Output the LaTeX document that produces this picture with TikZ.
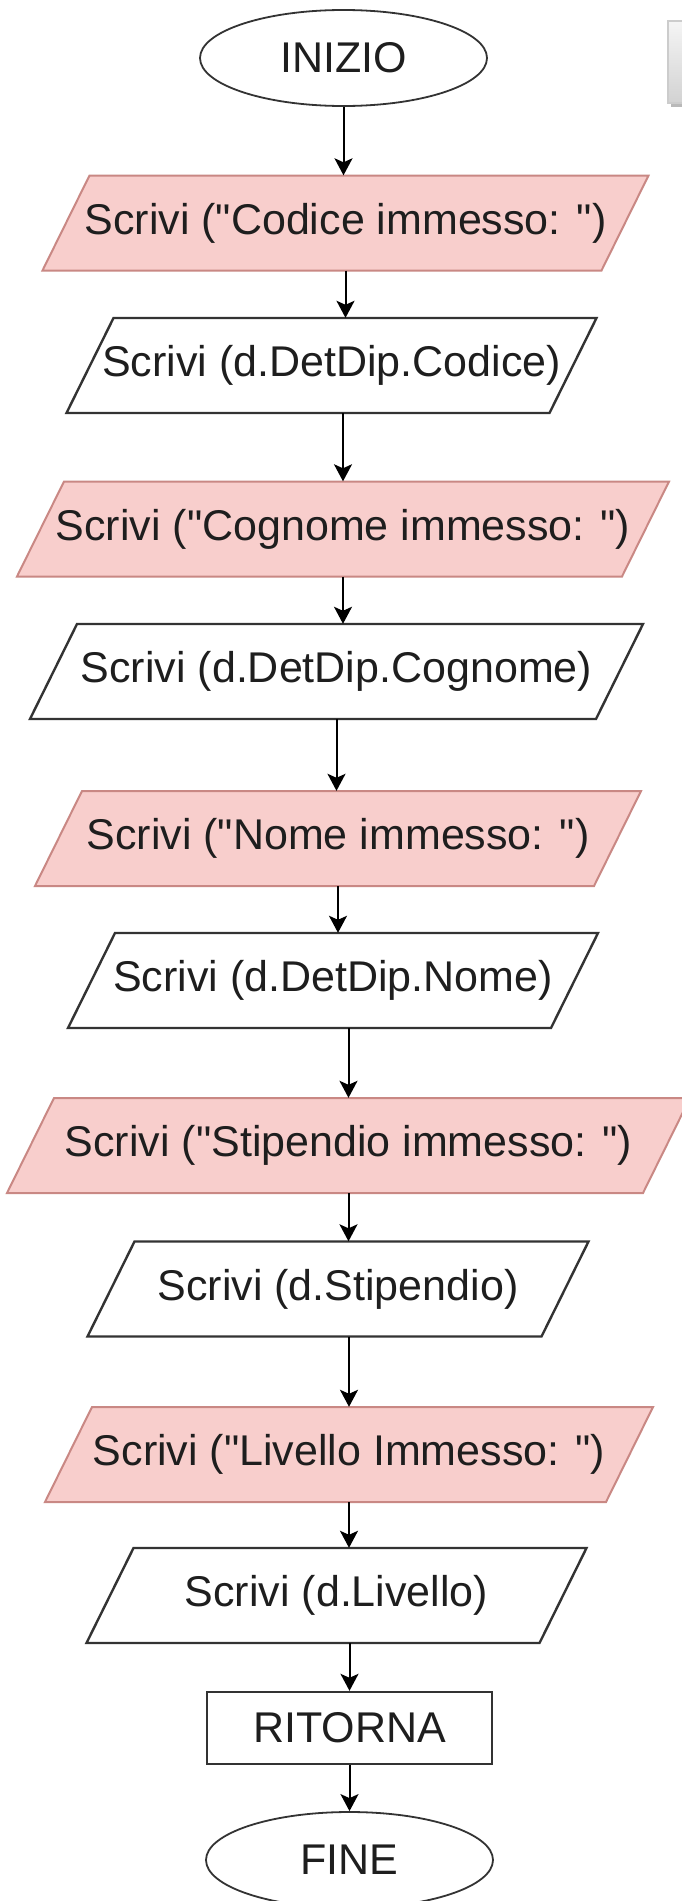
\documentclass[tikz,border=0pt]{standalone}
\usepackage{fontspec}
\setmainfont{Liberation Sans}[Ligatures=TeXOff]
\usetikzlibrary{shapes.geometric,arrows.meta}
\definecolor{pinkfill}{HTML}{F8CECC}
\definecolor{pinkline}{HTML}{C98884}
\definecolor{txtcol}{HTML}{1E1E1E}
\definecolor{edgecol}{HTML}{333333}
\tikzset{
 txt/.style={inner sep=0pt, text=txtcol, font=\fontsize{43}{50}\selectfont},
 pinkshape/.style={fill=pinkfill, draw=pinkline, line width=2pt},
 whiteshape/.style={fill=white, draw=edgecol, line width=2.4pt},
 term/.style={ellipse, draw=edgecol, line width=1.8pt, minimum width=287, minimum height=96, txt},
 procbox/.style={rectangle, draw=edgecol, line width=2.4pt, minimum width=285, minimum height=72, txt},
 arr/.style={draw=black, line width=2pt, -{Stealth[length=17pt,width=18pt,inset=4pt]}},
}
\newcommand\iobox[6]{%
  \path[#5] ({#2-#4/2+23.5},{#3-47.5}) -- ({#2+#4/2+23.5},{#3-47.5}) -- ({#2+#4/2-23.5},{#3+47.5}) -- ({#2-#4/2-23.5},{#3+47.5}) -- cycle;
  \node[txt, minimum width=#4, minimum height=95] (#1) at (#2,#3) {#6};
}
\begin{document}
\begin{tikzpicture}[x=1pt,y=-1pt]
\useasboundingbox (0,0) rectangle (681,1901);
\fill[white] (0,0) rectangle (681,1901);
% grey box at top right
\fill[gray!55] (671,103) rectangle (690,107);
\draw[draw=gray!40, line width=1.5pt, top color=gray!8, bottom color=gray!35] (667.75,20.75) rectangle (690,103);

\node[term] (start) at (343.5,58) {INIZIO};
\iobox{p1}{345.5}{223}{559}{pinkshape}{Scrivi ("Codice immesso: ")}
\iobox{w1}{331.5}{365.5}{483}{whiteshape}{Scrivi (d.DetDip.Codice)}
\iobox{p2}{343}{529}{605}{pinkshape}{Scrivi ("Cognome immesso: ")}
\iobox{w2}{336.5}{671.5}{566}{whiteshape}{Scrivi (d.DetDip.Cognome)}
\iobox{p3}{338}{838.5}{559}{pinkshape}{Scrivi ("Nome immesso: ")}
\iobox{w3}{333}{980.5}{483}{whiteshape}{Scrivi (d.DetDip.Nome)}
\iobox{p4}{348.5}{1145.5}{636}{pinkshape}{Scrivi ("Stipendio immesso: ")}
\iobox{w4}{338}{1289}{454}{whiteshape}{Scrivi (d.Stipendio)}
\iobox{p5}{349}{1454.5}{561}{pinkshape}{Scrivi ("Livello Immesso: ")}
\iobox{w5}{336.5}{1595.5}{453}{whiteshape}{Scrivi (d.Livello)}
\node[procbox] (ret) at (349.5,1728) {RITORNA};
\node[term] (fine) at (349.5,1860) {FINE};

\draw[arr] (start.south) -- (start.south |- p1.north);
\draw[arr] (p1.south) -- (p1.south |- w1.north);
\draw[arr] (w1.south -| p2.north) -- (p2.north);
\draw[arr] (p2.south) -- (p2.south |- w2.north);
\draw[arr] (w2.south) -- (w2.south |- p3.north);
\draw[arr] (p3.south) -- (p3.south |- w3.north);
\draw[arr] (w3.south -| p4.north) -- (p4.north);
\draw[arr] (p4.south) -- (p4.south |- w4.north);
\draw[arr] (w4.south -| p5.north) -- (p5.north);
\draw[arr] (p5.south) -- (p5.south |- w5.north);
\draw[arr] (w5.south -| ret.north) -- (ret.north);
\draw[arr] (ret.south) -- (ret.south |- fine.north);
\end{tikzpicture}
\end{document}
